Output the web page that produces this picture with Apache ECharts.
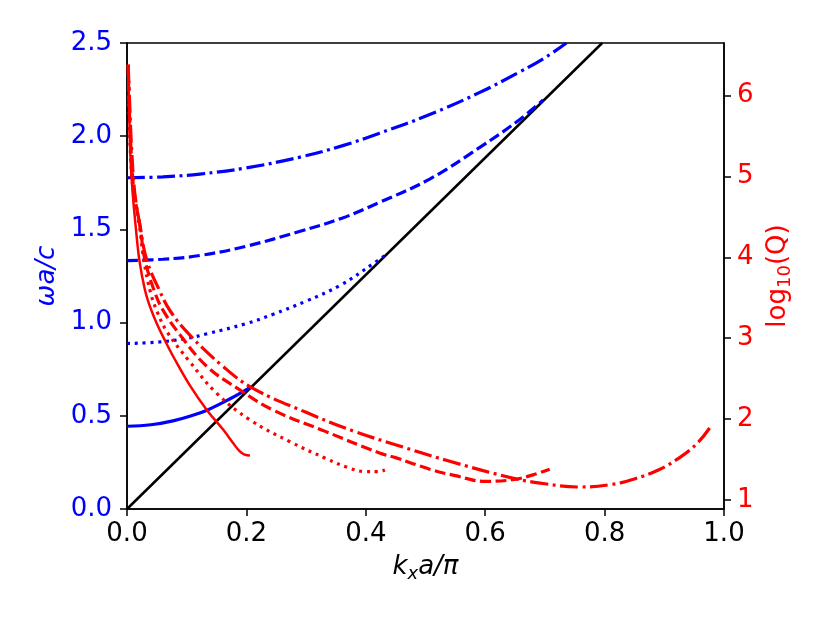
<!DOCTYPE html>
<html>
<head>
<meta charset="utf-8">
<title>kx a/pi</title>
<script src="https://cdn.jsdelivr.net/npm/echarts@6/dist/echarts.min.js"></script>
<style>
    html, body { margin: 0; padding: 0; background: #fff; }
    #echar { width: 830px; height: 623px; }
</style>
</head>
<body>
<div id="echar"></div>
<script>
// 光线 (黑色)
var lightLine = [[0, 0], [0.796, 2.5]];

// 蓝色 ωa/c 曲线
var blueSolid = [[0, 0.444], [0.04, 0.452], [0.077, 0.473], [0.11, 0.503], [0.134, 0.53], [0.172, 0.59], [0.205, 0.65]];
var blueDotted = [[0, 0.888], [0.05, 0.895], [0.1, 0.915], [0.134, 0.94], [0.2, 0.995], [0.245, 1.045], [0.3, 1.115], [0.357, 1.2], [0.412, 1.315], [0.432, 1.36]];
var blueDashed = [[0, 1.333], [0.06, 1.34], [0.122, 1.36], [0.2, 1.41], [0.29, 1.49], [0.36, 1.56], [0.423, 1.645], [0.507, 1.77], [0.591, 1.94], [0.658, 2.09], [0.697, 2.194]];
var blueDashDot = [[0, 1.777], [0.06, 1.782], [0.122, 1.797], [0.2, 1.83], [0.29, 1.888], [0.36, 1.948], [0.423, 2.016], [0.507, 2.116], [0.591, 2.235], [0.658, 2.345], [0.702, 2.425], [0.736, 2.5]];

// 红色 log10(Q) 曲线
var redSolid = [[0.002, 6.38], [0.004, 5.7], [0.006, 5.2], [0.01, 4.75], [0.015, 4.35], [0.021, 3.95], [0.03, 3.6], [0.039, 3.38], [0.05, 3.18], [0.065, 2.95], [0.077, 2.78], [0.105, 2.42], [0.134, 2.11], [0.161, 1.87], [0.178, 1.7], [0.189, 1.6], [0.197, 1.56], [0.206, 1.55]];
var redDotted = [[0.002, 6.38], [0.004, 5.75], [0.006, 5.25], [0.011, 4.8], [0.021, 4.38], [0.028, 3.97], [0.04, 3.55], [0.051, 3.32], [0.067, 3.08], [0.105, 2.71], [0.15, 2.32], [0.206, 1.99], [0.273, 1.72], [0.334, 1.51], [0.37, 1.4], [0.4, 1.35], [0.42, 1.35], [0.432, 1.37]];
var redDashed = [[0.002, 6.38], [0.004, 5.8], [0.007, 5.3], [0.012, 4.8], [0.022, 4.38], [0.03, 3.97], [0.047, 3.56], [0.06, 3.35], [0.089, 3.04], [0.134, 2.65], [0.189, 2.36], [0.245, 2.11], [0.328, 1.86], [0.423, 1.58], [0.451, 1.52], [0.507, 1.38], [0.55, 1.3], [0.6, 1.23], [0.646, 1.25], [0.68, 1.31], [0.708, 1.38]];
var redDashDot = [[0.002, 6.38], [0.005, 5.8], [0.008, 5.3], [0.013, 4.8], [0.022, 4.38], [0.033, 3.97], [0.055, 3.58], [0.073, 3.33], [0.105, 3.04], [0.161, 2.65], [0.211, 2.38], [0.301, 2.08], [0.38, 1.85], [0.451, 1.68], [0.535, 1.49], [0.646, 1.27], [0.7, 1.2], [0.758, 1.16], [0.81, 1.19], [0.85, 1.26], [0.89, 1.37], [0.925, 1.52], [0.955, 1.7], [0.976, 1.89]];

// 右轴刻度
var qTicks = [1, 2, 3, 4, 5, 6];

var FONT = 'DejaVu Sans';
var LW = 3.2;
var DASHED = [11, 4.5];
var DOTTED = [3, 4.8];
var DASHDOT = [18, 4.5, 3, 4.5];

function makeLine(name, data, color, type, yIndex, width) {
    return {
        name: name,
        type: 'line',
        data: data,
        yAxisIndex: yIndex,
        showSymbol: false,
        symbol: 'none',
        smooth: 0.4,
        clip: true,
        lineStyle: {
            color: color,
            width: width || LW,
            type: type,
            cap: 'butt'
        },
        z: yIndex == 1 ? 3 : 2
    };
}

var myChart = echarts.init(document.getElementById('echar'));

var option = {
    animation: false,
    backgroundColor: '#fff',
    grid: {
        left: 127,
        right: 106,
        top: 43,
        bottom: 114,
        show: true,
        borderColor: '#000',
        borderWidth: 1.5,
        backgroundColor: 'transparent'
    },
    xAxis: {
        type: 'value',
        min: 0,
        max: 1,
        interval: 0.2,
        name: '{i|k}{s|x}{i|a/π}',
        nameLocation: 'middle',
        nameGap: 42,
        nameTextStyle: {
            rich: {
                i: { fontFamily: FONT, fontStyle: 'italic', fontSize: 26, color: '#000', lineHeight: 32, verticalAlign: 'middle' },
                s: { fontFamily: FONT, fontStyle: 'italic', fontSize: 18, color: '#000', lineHeight: 32, verticalAlign: 'bottom' }
            }
        },
        axisLine: { show: true, lineStyle: { color: '#000', width: 1.5 } },
        axisTick: { show: true, length: 7, lineStyle: { color: '#000', width: 1.5 } },
        axisLabel: {
            margin: 12,
            fontFamily: FONT,
            fontSize: 26,
            color: '#000',
            formatter: function (v) { return v.toFixed(1); }
        },
        splitLine: { show: false }
    },
    yAxis: [{
        type: 'value',
        position: 'left',
        min: 0,
        max: 2.5,
        interval: 0.5,
        name: 'ωa/c',
        nameLocation: 'middle',
        nameGap: 67,
        nameTextStyle: { fontFamily: FONT, fontStyle: 'italic', fontSize: 26, color: '#0000ff' },
        axisLine: { show: true, lineStyle: { color: '#000', width: 1.5 } },
        axisTick: { show: true, length: 7, lineStyle: { color: '#000', width: 1.5 } },
        axisLabel: {
            margin: 15,
            fontFamily: FONT,
            fontSize: 26,
            color: '#0000ff',
            formatter: function (v) { return v.toFixed(1); }
        },
        splitLine: { show: false }
    }, {
        type: 'value',
        position: 'right',
        min: 0.888,
        max: 6.65,
        name: '{n|log}{s|10}{n|(Q)}',
        nameLocation: 'middle',
        nameGap: 38,
        nameTextStyle: {
            rich: {
                n: { fontFamily: FONT, fontSize: 26, color: '#ff0000', lineHeight: 32, verticalAlign: 'middle' },
                s: { fontFamily: FONT, fontSize: 18, color: '#ff0000', lineHeight: 32, verticalAlign: 'bottom' }
            }
        },
        axisLine: { show: true, lineStyle: { color: '#000', width: 1.5 } },
        axisTick: { show: true, length: 7, customValues: qTicks, lineStyle: { color: '#000', width: 1.5 } },
        axisLabel: {
            margin: 13,
            fontFamily: FONT,
            fontSize: 26,
            color: '#ff0000',
            customValues: qTicks,
            formatter: function (v) { return String(Math.round(v)); }
        },
        splitLine: { show: false }
    }],
    series: [
        makeLine('light', lightLine, '#000', 'solid', 0, 2.5),
        makeLine('blue-solid', blueSolid, '#0000ff', 'solid', 0),
        makeLine('blue-dotted', blueDotted, '#0000ff', DOTTED, 0),
        makeLine('blue-dashed', blueDashed, '#0000ff', DASHED, 0),
        makeLine('blue-dashdot', blueDashDot, '#0000ff', DASHDOT, 0),
        makeLine('red-solid', redSolid, '#ff0000', 'solid', 1, 2.5),
        makeLine('red-dotted', redDotted, '#ff0000', DOTTED, 1),
        makeLine('red-dashed', redDashed, '#ff0000', DASHED, 1),
        makeLine('red-dashdot', redDashDot, '#ff0000', DASHDOT, 1)
    ]
};

myChart.setOption(option);
</script>
</body>
</html>
